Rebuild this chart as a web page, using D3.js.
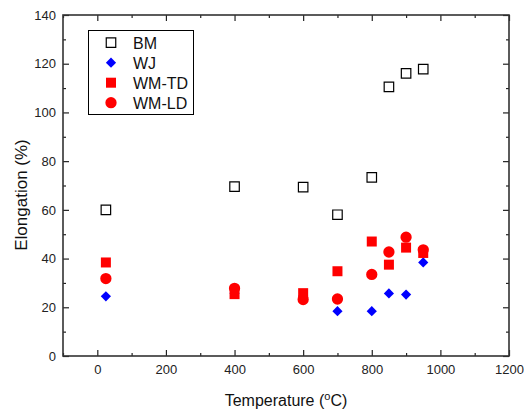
<!DOCTYPE html>
<html>
<head>
<meta charset="utf-8">
<script src="https://cdn.jsdelivr.net/npm/d3@7"></script>
<style>
  body { margin: 0; background: #fff; }
  svg { font-family: "Liberation Sans", Arial, sans-serif; }
</style>
</head>
<body>
<div id="chart"></div>
<script>
// temperatures (deg C) tested
var temps = [25, 400, 600, 700, 800, 850, 900, 950];

// elongation (%) per specimen type
var bm   = [60, 69.5, 69.3, 58, 73.3, 110.5, 116, 117.8];
var wj   = [24.5, 25.8, 24.6, 18.4, 18.4, 25.7, 25.2, 38.4];
var wmTD = [38.4, 25.4, 25.8, 34.8, 47, 37.5, 44.5, 42.3];
var wmLD = [31.8, 27.8, 23.2, 23.4, 33.5, 42.7, 48.8, 43.6];

var seriesNames = ["BM", "WJ", "WM-TD", "WM-LD"];
var xTicks = [0, 200, 400, 600, 800, 1000, 1200];
var yTicks = [0, 20, 40, 60, 80, 100, 120, 140];

var width = 524, height = 414;
var margin = {top: 15, right: 15, bottom: 58, left: 63};

var x = d3.scaleLinear()
  .domain([-100, 1200])
  .range([margin.left, width - margin.right]);

var y = d3.scaleLinear()
  .domain([0, 140])
  .range([height - margin.bottom, margin.top]);

var svg = d3.select("#chart").append("svg")
  .attr("width", width)
  .attr("height", height);

var x0 = x.range()[0], x1 = x.range()[1];
var y0 = y.range()[0], y1 = y.range()[1];

// minor ticks (every 100 / every 10)
var xMinor = d3.range(-100, 1201, 100).filter(function(d) { return xTicks.indexOf(d) < 0; });
var yMinor = d3.range(10, 140, 20);

function styleAxis(g) {
  g.select(".domain").remove();
  g.selectAll(".tick line").attr("stroke", "#222").attr("stroke-width", 1.2);
  g.selectAll(".tick text").attr("fill", "#222").attr("font-size", 13)
    .attr("font-family", "'Liberation Sans', Arial, sans-serif");
}

// bottom axis
svg.append("g").attr("transform", "translate(0," + y0 + ")")
  .call(d3.axisBottom(x).tickValues(xTicks).tickFormat(d3.format("d")).tickSizeInner(-6).tickSizeOuter(0).tickPadding(9))
  .call(styleAxis);
svg.append("g").attr("transform", "translate(0," + y0 + ")")
  .call(d3.axisBottom(x).tickValues(xMinor).tickSizeInner(-3).tickSizeOuter(0).tickFormat(""))
  .call(styleAxis);

// top axis (no labels)
svg.append("g").attr("transform", "translate(0," + y1 + ")")
  .call(d3.axisTop(x).tickValues(xTicks).tickSizeInner(-6).tickSizeOuter(0).tickFormat(""))
  .call(styleAxis);
svg.append("g").attr("transform", "translate(0," + y1 + ")")
  .call(d3.axisTop(x).tickValues(xMinor).tickSizeInner(-3).tickSizeOuter(0).tickFormat(""))
  .call(styleAxis);

// left axis
svg.append("g").attr("transform", "translate(" + x0 + ",0)")
  .call(d3.axisLeft(y).tickValues(yTicks).tickSizeInner(-6).tickSizeOuter(0).tickPadding(7))
  .call(styleAxis);
svg.append("g").attr("transform", "translate(" + x0 + ",0)")
  .call(d3.axisLeft(y).tickValues(yMinor).tickSizeInner(-3).tickSizeOuter(0).tickFormat(""))
  .call(styleAxis);

// right axis (no labels)
svg.append("g").attr("transform", "translate(" + x1 + ",0)")
  .call(d3.axisRight(y).tickValues(yTicks).tickSizeInner(-6).tickSizeOuter(0).tickFormat(""))
  .call(styleAxis);
svg.append("g").attr("transform", "translate(" + x1 + ",0)")
  .call(d3.axisRight(y).tickValues(yMinor).tickSizeInner(-3).tickSizeOuter(0).tickFormat(""))
  .call(styleAxis);

// frame
svg.append("rect")
  .attr("x", x0).attr("y", y1)
  .attr("width", x1 - x0).attr("height", y0 - y1)
  .attr("fill", "none").attr("stroke", "#333").attr("stroke-width", 1.6);

// symbols
var symSquare = d3.symbol().type(d3.symbolSquare).size(90);
var symFilledSquare = d3.symbol().type(d3.symbolSquare).size(100);
var symDiamond = d3.symbol().type(d3.symbolSquare).size(52);
var symCircle = d3.symbol().type(d3.symbolCircle).size(100);

var series = [
  {name: seriesNames[0], values: bm,   path: symSquare,       rot: 0,  fill: "#fff",    stroke: "#000", sw: 1.2},
  {name: seriesNames[1], values: wj,   path: symDiamond,      rot: 45, fill: "#0000ff", stroke: "none", sw: 0},
  {name: seriesNames[2], values: wmTD, path: symFilledSquare, rot: 0,  fill: "#ff0000", stroke: "none", sw: 0},
  {name: seriesNames[3], values: wmLD, path: symCircle,       rot: 0,  fill: "#ff0000", stroke: "none", sw: 0}
];

var pts = svg.append("g");
series.forEach(function(s) {
  pts.selectAll(null)
    .data(temps.map(function(t, i) { return {t: t, v: s.values[i]}; }))
    .enter().append("path")
    .attr("d", s.path)
    .attr("transform", function(d) { return "translate(" + x(d.t) + "," + y(d.v) + ")rotate(" + s.rot + ")"; })
    .attr("fill", s.fill)
    .attr("stroke", s.stroke)
    .attr("stroke-width", s.sw);
});

// legend
var legend = svg.append("g");
legend.append("rect")
  .attr("x", 88.5).attr("y", 30.5)
  .attr("width", 105).attr("height", 84)
  .attr("fill", "#fff").attr("stroke", "#000").attr("stroke-width", 1);

series.forEach(function(s, i) {
  var ly = 42.7 + i * 20;
  legend.append("path")
    .attr("d", s.path)
    .attr("transform", "translate(111," + ly + ")rotate(" + s.rot + ")")
    .attr("fill", s.fill)
    .attr("stroke", s.stroke)
    .attr("stroke-width", s.sw);
  legend.append("text")
    .attr("x", 133).attr("y", ly + 6)
    .attr("font-size", 16).attr("fill", "#111")
    .text(s.name);
});

// axis titles
var xt = svg.append("text")
  .attr("x", (x0 + x1) / 2).attr("y", 406)
  .attr("text-anchor", "middle")
  .attr("font-size", 16).attr("fill", "#111");
xt.append("tspan").text("Temperature (");
xt.append("tspan").attr("dy", -6).attr("font-size", 11).text("o");
xt.append("tspan").attr("dy", 6).text("C)");

svg.append("text")
  .attr("transform", "translate(27,195)rotate(-90)")
  .attr("text-anchor", "middle")
  .attr("font-size", 17).attr("fill", "#111")
  .text("Elongation (%)");
</script>
</body>
</html>
